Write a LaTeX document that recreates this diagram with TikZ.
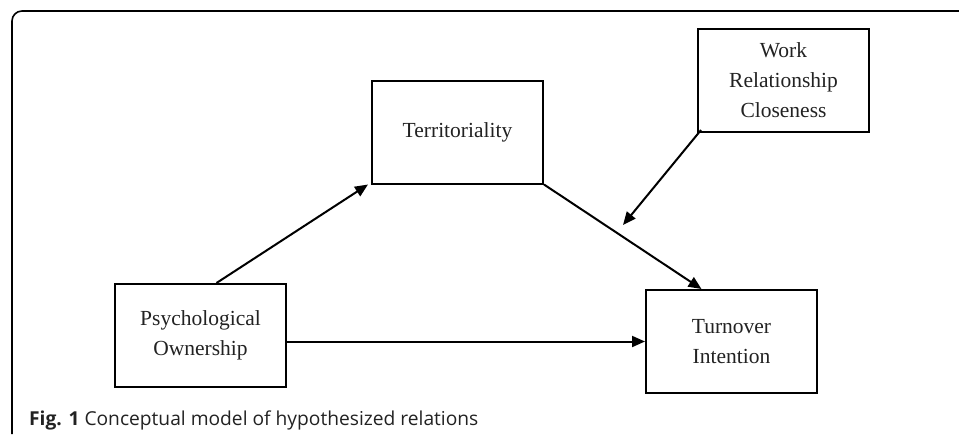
\documentclass[tikz,border=0pt]{standalone}
\usepackage{fontspec}
\setmainfont{Liberation Serif}
\newfontfamily\capfont{Open Sans}
\usetikzlibrary{arrows.meta}
\definecolor{txt}{HTML}{222222}
\begin{document}
\begin{tikzpicture}[x=1pt,y=-1pt,
  varbox/.style={draw=black,line width=2pt,rectangle,minimum width=171pt,minimum height=103pt,
    inner sep=0pt,align=center,text=txt,font=\fontsize{21.5}{30}\selectfont},
  conn/.style={line width=2pt,-{Triangle[length=13pt,width=11pt]}}]
\useasboundingbox (0,0) rectangle (959,434);
\draw[line width=1.6pt,rounded corners=10pt] (12,434) -- (12,11) -- (959,11);
\node[varbox] (terr) at (457.5,132) {Territoriality};
\node[varbox] (wrc) at (783.5,80.5) {Work\\Relationship\\Closeness};
\node[varbox] (po) at (200.5,335.5) {Psychological\\Ownership};
\node[varbox] (ti) at (731.5,341.5) {Turnover\\Intention};
\coordinate (mod) at (623,225);
\draw[conn] ([xshift=16pt]po.north) -- ([xshift=-3pt]terr.south west);
\draw[conn] (terr.south east) -- ([xshift=-30pt]ti.north);
\draw[conn] ([shift={(4pt,3pt)}]wrc.south west) -- (mod);
\draw[conn] (po.east |- ti.west) -- (ti.west);
\node[anchor=base west,inner sep=0pt,text=txt,font=\capfont\fontsize{19.2}{21}\selectfont] (cap) at (29,425.5)
  {\textbf{Fig. 1} Conceptual model of hypothesized relations};
\end{tikzpicture}
\end{document}
